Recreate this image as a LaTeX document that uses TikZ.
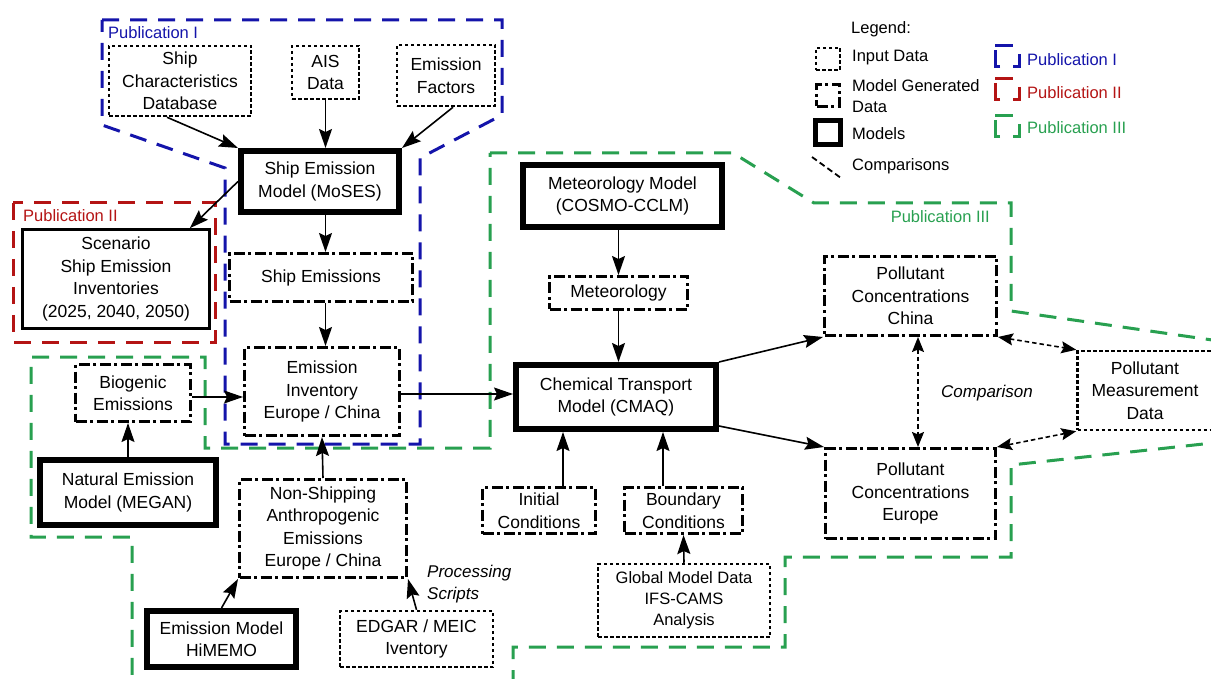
\documentclass[tikz,border=0pt]{standalone}
\usepackage{fontspec}
\setmainfont{Liberation Sans}
\usetikzlibrary{arrows.meta,calc}
\definecolor{pubblue}{RGB}{20,20,170}
\definecolor{pubred}{RGB}{180,20,20}
\definecolor{pubgreen}{RGB}{40,160,80}
\tikzset{
 base/.style={align=center, inner sep=0pt, fill=white, font=\fontsize{17.5}{22.5}\selectfont},
 inp/.style={base, draw, line width=2.5pt, dash pattern=on 3.5pt off 2.5pt},
 gen/.style={base, draw, line width=3pt, dash pattern=on 11pt off 3.5pt on 3pt off 3.5pt},
 mdl/.style={base, draw, line width=6pt},
 plainbox/.style={base, draw, line width=2.5pt},
 arr/.style={-{Stealth[length=19pt,width=13pt,inset=3pt]}, line width=1.6pt},
 cmp/.style={{Stealth[length=15pt,width=12pt,inset=2.5pt]}-{Stealth[length=15pt,width=12pt,inset=2.5pt]}, line width=1.6pt, dash pattern=on 4.5pt off 3pt},
 pub/.style={line width=3pt, dash pattern=on 17pt off 11pt},
 publabel/.style={font=\fontsize{16.5}{20}\selectfont, inner sep=0pt},
 legtext/.style={font=\fontsize{16.5}{21}\selectfont, inner sep=0pt, anchor=west, align=left},
}
\begin{document}
\begin{tikzpicture}[x=1pt,y=-1pt]
\useasboundingbox (0,0) rectangle (1211,679);
% publication boundaries
\draw[pub, pubblue] (102,20) -- (502,20) -- (502,115) -- (420,158) -- (420,444) -- (225,444) -- (225,168) -- (102,125) -- cycle;
\draw[pub, pubred] (13,203) rectangle (215,342);
\draw[pub, pubgreen] (490,153) -- (733,153) -- (814,203) -- (1011,203) -- (1011,311) -- (1240,344) -- (1240,440) -- (1011,465) -- (1011,557) -- (785,557) -- (785,647) -- (513,647) -- (513,720) -- (132,720) -- (132,537) -- (31,537) -- (31,357) -- (205,357) -- (205,448) -- (490,448) -- cycle;
\node[publabel, pubblue, anchor=west] (lpub1) at (108,33) {Publication I};
\node[publabel, pubred, anchor=west] (lpub2) at (23,216) {Publication II};
\node[publabel, pubgreen, anchor=east] (lpub3) at (990,217) {Publication III};

% nodes
\node[inp, minimum width=142pt, minimum height=70pt] (shipchar) at (180,81) {Ship\\Characteristics\\Database};
\node[inp, minimum width=67pt, minimum height=53pt] (ais) at (325.5,72.5) {AIS\\Data};
\node[inp, minimum width=98pt, minimum height=61pt] (ef) at (446,75.5) {Emission\\Factors};
\node[mdl, minimum width=158pt, minimum height=61pt] (moses) at (320,181.5) {Ship Emission\\Model (MoSES)};
\node[plainbox, minimum width=187pt, minimum height=99pt] (scen) at (116,279) {Scenario\\Ship Emission\\Inventories\\(2025, 2040, 2050)};
\node[gen, minimum width=183pt, minimum height=48pt] (shipem) at (321,277.5) {Ship Emissions};
\node[gen, minimum width=155pt, minimum height=88pt] (eminv) at (322,391.5) {Emission\\Inventory\\Europe / China};
\node[gen, minimum width=115pt, minimum height=57pt] (biog) at (133,393) {Biogenic\\Emissions};
\node[mdl, minimum width=176pt, minimum height=65pt] (megan) at (128,492.5) {Natural Emission\\Model (MEGAN)};
\node[gen, minimum width=167pt, minimum height=98pt] (nonship) at (323,528.5) {Non-Shipping\\Anthropogenic\\Emissions\\Europe / China};
\node[mdl, minimum width=149pt, minimum height=56pt] (himemo) at (221.5,639) {Emission Model\\HiMEMO};
\node[inp, minimum width=153pt, minimum height=56pt] (edgar) at (416.5,639) {EDGAR / MEIC\\Iventory};
\node[font=\fontsize{17}{22}\selectfont\itshape, align=left, anchor=west, inner sep=0pt] (proc) at (427,584) {Processing\\Scripts};
\node[mdl, minimum width=199pt, minimum height=62pt] (metmod) at (622.5,196) {Meteorology Model\\(COSMO-CCLM)};
\node[gen, minimum width=138pt, minimum height=33pt] (met) at (618.5,293) {Meteorology};
\node[mdl, minimum width=200pt, minimum height=64pt] (ctm) at (616,397) {Chemical Transport\\Model (CMAQ)};
\node[gen, minimum width=113pt, minimum height=46pt] (init) at (539,510.5) {Initial\\Conditions};
\node[gen, minimum width=118pt, minimum height=46pt] (bnd) at (683.5,510.5) {Boundary\\Conditions};
\node[inp, minimum width=172pt, minimum height=73pt, font=\fontsize{16.5}{21}\selectfont] (glob) at (684,600.5) {Global Model Data\\IFS-CAMS\\Analysis};
\node[gen, minimum width=172pt, minimum height=79pt] (pchina) at (910.5,296) {Pollutant\\Concentrations\\China};
\node[gen, minimum width=170pt, minimum height=90pt] (peur) at (910.5,493.5) {Pollutant\\Concentrations\\Europe};
\node[inp, minimum width=135pt, minimum height=79pt] (meas) at (1145,390.5) {Pollutant\\Measurement\\Data};
\node[font=\fontsize{17}{22}\selectfont\itshape, inner sep=0pt] (cmplabel) at (987,393) {Comparison};

% arrows
\draw[arr] ([xshift=-13pt]shipchar.south) -- (moses.north west);
\draw[arr] (ais.south) -- (ais.south |- moses.north);
\draw[arr] ([xshift=7pt]ef.south) -- (moses.north east);
\draw[arr] (moses.west) -- ([xshift=-21pt]scen.north east);
\draw[arr] (moses.south -| ais.south) -- (ais.south |- shipem.north);
\draw[arr] (shipem.south -| ais.south) -- (ais.south |- eminv.north);
\draw[arr] ([yshift=-4pt]biog.east) -- ([yshift=-4pt]biog.east -| eminv.west);
\draw[arr] ([yshift=-2.5pt]eminv.east) -- ([yshift=-2.5pt]eminv.east -| ctm.west);
\draw[arr] (megan.north) -- (megan.north |- biog.south);
\draw[arr] (nonship.north) -- (eminv.south);
\draw[arr] (himemo.north) -- (nonship.south west);
\draw[arr] (edgar.north) -- (nonship.south east);
\draw[arr] (met.north |- metmod.south) -- (met.north);
\draw[arr] (met.south) -- (met.south |- ctm.north);
\draw[arr] ([xshift=24pt]init.north) -- ([xshift=24pt]init.north |- ctm.south);
\draw[arr] ([xshift=-20.5pt]bnd.north) -- ([xshift=-20.5pt]bnd.north |- ctm.south);
\draw[arr] (glob.north) -- (bnd.south);
\draw[arr] (ctm.north east) -- (pchina.south west);
\draw[arr] ([yshift=-29pt]ctm.east) -- (peur.north west);
\draw[cmp] ([xshift=7.5pt]pchina.south) -- ([xshift=7.5pt]pchina.south |- peur.north);
\draw[cmp] (pchina.south east) -- (meas.north west);
\draw[cmp] (peur.north east) -- (meas.south west);

% legend
\node[legtext] (legtitle) at (851,29) {Legend:};
\node[inp, minimum width=24pt, minimum height=22pt] (lg1) at (828,59) {};
\node[legtext] (lgt1) at (852,58) {Input Data};
\node[gen, minimum width=23pt, minimum height=22pt] (lg2) at (828,95.5) {};
\node[legtext] (lgt2) at (852,96.5) {Model Generated\\Data};
\node[base, draw, line width=5pt, minimum width=25pt, minimum height=24pt] (lg3) at (828,132.5) {};
\node[legtext] (lgt3) at (852,134) {Models};
\coordinate (lgc1) at (812,157);
\coordinate (lgc2) at (841,178);
\draw[line width=1.8pt, dash pattern=on 6pt off 3.5pt] (lgc1) -- (lgc2);
\node[legtext] (lgt4) at (852,166) {Comparisons};
\foreach \c/\y in {pubblue/46, pubred/79, pubgreen/116} {
  \draw[line width=3pt, \c] (995,\y) -- (1013,\y);
  \draw[line width=3pt, \c] (1019,{\y+8}) -- (1019,{\y+21}) -- (1013,{\y+21});
  \draw[line width=3pt, \c] (1000,{\y+21}) -- (995,{\y+21}) -- (995,{\y+4});
}
\node[legtext, pubblue] (lp1) at (1027,60) {Publication I};
\node[legtext, pubred] (lp2) at (1027,93) {Publication II};
\node[legtext, pubgreen] (lp3) at (1027,128) {Publication III};
\end{tikzpicture}
\end{document}
